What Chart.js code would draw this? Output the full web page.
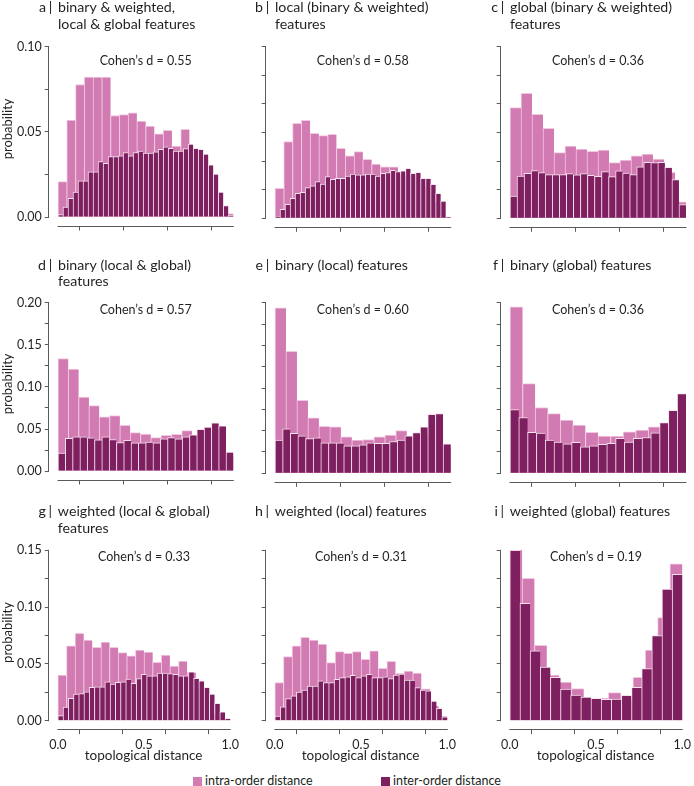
<!DOCTYPE html>
<html><head><meta charset="utf-8">
<script src="https://cdn.jsdelivr.net/npm/chart.js@4/dist/chart.umd.min.js"></script>
<style>
html,body{margin:0;padding:0;background:#fff;overflow:hidden;}
#wrap{position:relative;width:694px;height:786px;font-family:Lato,sans-serif;}
canvas{position:absolute;}
.lg{position:absolute;font:12.5px Lato,sans-serif;color:#231f20;white-space:nowrap;line-height:14px;}
.sw{position:absolute;width:9px;height:9px;}
</style></head>
<body><div id="wrap"></div>
<script>
// ---------- data ----------
const xTicks = [0, 0.25, 0.5, 0.75, 1.0];
const yTicks010 = [0, 0.025, 0.05, 0.075, 0.10];
const yTicks015 = [0, 0.025, 0.05, 0.075, 0.10, 0.125, 0.15];
const yTicks020 = [0, 0.025, 0.05, 0.075, 0.10, 0.125, 0.15, 0.175, 0.20];
const seriesNames = ['intra-order distance', 'inter-order distance'];
const panelLetters = ['a','b','c','d','e','f','g','h','i'];
const panelTitles = [
  ['binary & weighted,', 'local & global features'],
  ['local (binary & weighted)', 'features'],
  ['global (binary & weighted)', 'features'],
  ['binary (local & global)', 'features'],
  ['binary (local) features'],
  ['binary (global) features'],
  ['weighted (local & global)', 'features'],
  ['weighted (local) features'],
  ['weighted (global) features']
];
const cohensD = ['0.55','0.58','0.36','0.57','0.60','0.36','0.33','0.31','0.19'];
const yMaxes = [0.10, 0.15, 0.15, 0.20, 0.20, 0.20, 0.15, 0.15, 0.15];

const intraA = [0.0208,0.0569,0.0777,0.0821,0.0821,0.0821,0.0596,0.0602,0.0612,0.0563,0.0534,0.0489,0.0509,0.0417,0.0515,0.038,0.035,0.024,0.006,0.002];
const interA = [0.0014,0.0058,0.011,0.0146,0.0212,0.0212,0.0266,0.0266,0.0326,0.0315,0.0355,0.0355,0.0359,0.0379,0.0359,0.0379,0.0388,0.0375,0.0375,0.0383,0.0398,0.0412,0.0404,0.0388,0.0388,0.0402,0.0429,0.0404,0.0398,0.0369,0.0307,0.0252,0.0146,0.0068,0.001];
const intraB = [0.0262,0.067,0.083,0.0856,0.0743,0.0722,0.0734,0.0612,0.0545,0.0583,0.0516,0.0475,0.0451,0.0451,0.038,0.038,0.034,0.028,0.014,0.001];
const interB = [0.0015,0.0079,0.0122,0.0175,0.0218,0.0227,0.0268,0.0283,0.032,0.030,0.0364,0.0341,0.035,0.035,0.037,0.0387,0.0379,0.0379,0.0387,0.0387,0.037,0.0393,0.0399,0.0419,0.0408,0.0414,0.0437,0.0393,0.0402,0.035,0.035,0.0297,0.0218,0.0151,0.0009];
const intraC = [0.0967,0.1092,0.0909,0.0786,0.0574,0.0632,0.0606,0.0585,0.0597,0.0486,0.051,0.0545,0.0562,0.0518,0.0402,0.0143];
const interC = [0.0195,0.037,0.0393,0.0417,0.0399,0.0382,0.0382,0.0382,0.039,0.0379,0.039,0.0376,0.0367,0.0408,0.0364,0.0414,0.0396,0.0382,0.0451,0.0489,0.0486,0.0489,0.0446,0.0338,0.012];
const intraD = [0.1336,0.1211,0.0879,0.0777,0.0645,0.066,0.0543,0.0457,0.0441,0.0398,0.0426,0.0438,0.048,0.042,0.048,0.05,0.02];
const interD = [0.0215,0.039,0.0406,0.0406,0.0394,0.0371,0.0406,0.0375,0.034,0.0367,0.0336,0.0336,0.0344,0.0336,0.0383,0.0398,0.0383,0.0406,0.043,0.0496,0.0523,0.0574,0.0539,0.0227];
const intraE = [0.194,0.143,0.0854,0.0649,0.0551,0.0544,0.0427,0.0388,0.0396,0.0427,0.0447,0.050,0.043,0.047,0.06,0.03];
const interE = [0.0388,0.052,0.047,0.0439,0.0408,0.0416,0.0357,0.0357,0.0357,0.0322,0.0322,0.0334,0.0357,0.035,0.035,0.0373,0.0388,0.0439,0.0478,0.0544,0.069,0.070,0.0346];
const intraF = [0.1953,0.1051,0.0771,0.070,0.0623,0.0564,0.0479,0.0436,0.0436,0.0486,0.0506,0.0545,0.055,0.07];
const interF = [0.0747,0.0654,0.0479,0.0471,0.0389,0.0366,0.0346,0.0362,0.0311,0.0323,0.0339,0.035,0.0409,0.0366,0.0409,0.042,0.0475,0.0595,0.0739,0.0934];
const intraG = [0.0402,0.0658,0.0769,0.071,0.0646,0.0693,0.0646,0.0599,0.0572,0.0622,0.0605,0.0514,0.0578,0.0481,0.0525,0.0426,0.029,0.0164,0.006,0.0018];
const interG = [0.0044,0.012,0.0197,0.0235,0.0238,0.0255,0.0294,0.0299,0.0299,0.0343,0.0323,0.0338,0.0343,0.0367,0.0329,0.037,0.0408,0.0396,0.0396,0.042,0.042,0.0414,0.0408,0.0396,0.0396,0.0431,0.0373,0.0352,0.0294,0.0235,0.0153,0.0079,0.0018];
const intraH = [0.0335,0.0564,0.0658,0.0734,0.071,0.0675,0.0511,0.0608,0.0593,0.0608,0.054,0.0616,0.0461,0.0522,0.0417,0.0437,0.042,0.028,0.013,0.004];
const interH = [0.0041,0.0123,0.0194,0.022,0.0252,0.027,0.0305,0.0305,0.0352,0.0335,0.0335,0.0364,0.0379,0.0387,0.0399,0.0379,0.0396,0.0408,0.0379,0.0379,0.0387,0.037,0.0402,0.0411,0.0358,0.0358,0.0291,0.027,0.0264,0.0173,0.0109,0.0035];
const intraI = [0.16,0.1253,0.0663,0.0402,0.034,0.0282,0.02,0.02,0.0247,0.019,0.0382,0.0622,0.0907,0.138];
const interI = [0.15,0.1033,0.0616,0.0473,0.0382,0.0279,0.0226,0.0208,0.0197,0.0188,0.0191,0.0223,0.0294,0.0458,0.0749,0.1159,0.1289];

const intraAll = [intraA,intraB,intraC,intraD,intraE,intraF,intraG,intraH,intraI];
const interAll = [interA,interB,interC,interD,interE,interF,interG,interH,interI];

// ---------- style / layout ----------
const PINK = '#d27bb3', PINK_EDGE = '#f2c8e0';
const PURPLE = '#7e1f5f', PURPLE_EDGE = '#f5e3ee';
const AXIS = '#5a5a5c', TEXT = '#231f20';
const FONT = 'Lato';
Chart.defaults.font.family = FONT;
Chart.defaults.color = TEXT;

const COLS = [
  {cl: 0,   X0: 58,  X1: 233.3},
  {cl: 245, X0: 275, X1: 450.7},
  {cl: 480, X0: 510, X1: 686}
];
const ROWS = [
  {ct: 0,   cb: 236, Y0: 218.3, YM: 46.7,  t1: 7.5,   t2: 24.2,  cd: 60.7},
  {ct: 252, cb: 490, Y0: 473.3, YM: 302.7, t1: 265,   t2: 281.7, cd: 310},
  {ct: 500, cb: 770, Y0: 720.7, YM: 550.3, t1: 511.7, t2: 528.3, cd: 556.7}
];
const XMIN = -0.05, XMAX = 1.045, DY = 8.5, XTITLE_Y = 755.7;

const wrap = document.getElementById('wrap');

const panelPlugin = {
  id: 'panelDeco',
  afterDraw(chart, args, o) {
    const {ctx, chartArea, scales} = chart;
    const yS = scales.y, xS = scales.x;
    ctx.save();
    ctx.strokeStyle = AXIS; ctx.lineWidth = 1;
    const ax = Math.round(chartArea.left) - 0.5;
    ctx.beginPath();
    ctx.moveTo(ax, yS.getPixelForValue(0) + 0.5);
    ctx.lineTo(ax, yS.getPixelForValue(o.ymax) - 0.5);
    ctx.stroke();
    const ay = Math.round(chartArea.bottom) + 0.5;
    ctx.beginPath();
    ctx.moveTo(xS.getPixelForValue(0) - 0.5, ay);
    ctx.lineTo(xS.getPixelForValue(1) + 0.5, ay);
    ctx.stroke();
    // Cohen's d
    ctx.fillStyle = TEXT;
    ctx.textBaseline = 'middle';
    ctx.textAlign = 'center';
    ctx.font = '12.5px ' + FONT;
    ctx.fillText('Cohen\u2019s d = ' + o.d, xS.getPixelForValue(0.5), o.cdY);
    // title
    const tx = xS.getPixelForValue(0);
    ctx.font = '14.2px ' + FONT;
    ctx.textAlign = 'left';
    o.title.forEach((line, k) => ctx.fillText(line, tx, k === 0 ? o.t1 : o.t2));
    ctx.textAlign = 'right';
    ctx.fillText(o.letter, tx - 12, o.t1);
    ctx.textAlign = 'center';
    ctx.fillText('|', tx - 7.5, o.t1);
    // y title
    if (o.yTitle) {
      ctx.save();
      ctx.font = '13px ' + FONT;
      ctx.translate(8, (yS.getPixelForValue(0) + yS.getPixelForValue(o.ymax)) / 2 - 3);
      ctx.rotate(-Math.PI / 2);
      ctx.textAlign = 'center';
      ctx.fillText('probability', 0, 0);
      ctx.restore();
    }
    ctx.restore();
  }
};

for (let k = 0; k < 9; k++) {
  const c = k % 3, r = Math.floor(k / 3);
  const col = COLS[c], row = ROWS[r];
  const ymax = yMaxes[k];
  const yTicks = ymax === 0.10 ? yTicks010 : (ymax === 0.15 ? yTicks015 : yTicks020);
  const u = col.X1 - col.X0;
  const chartL = col.X0 + XMIN * u, chartR = col.X0 + XMAX * u;
  const W = Math.ceil(chartR - col.cl);
  const wy = chartL - col.cl;
  const padR = W - (chartR - col.cl);
  const H = row.cb - row.ct;
  const padT = row.YM - row.ct;
  const chartB = row.Y0 + DY;
  const hx = r === 2 ? (XTITLE_Y + 8.1 - chartB) : 8;
  const padB = row.cb - chartB - hx;
  const ymin = -ymax * DY / (row.Y0 - row.YM);

  const cv = document.createElement('canvas');
  cv.width = W; cv.height = H;
  cv.style.left = col.cl + 'px'; cv.style.top = row.ct + 'px';
  cv.style.width = W + 'px'; cv.style.height = H + 'px';
  wrap.appendChild(cv);

  const intra = intraAll[k], inter = interAll[k];
  const xAxisCommon = {
    type: 'linear', min: XMIN, max: XMAX, offset: false,
    afterBuildTicks: s => { s.ticks = xTicks.map(v => ({value: v})); }
  };
  new Chart(cv, {
    type: 'bar',
    data: {
      datasets: [
        {
          label: seriesNames[1], xAxisID: 'x', order: 0,
          data: inter.map((v, i) => ({x: (i + 0.5) / inter.length, y: v})),
          backgroundColor: PURPLE, borderColor: PURPLE_EDGE,
          borderWidth: {top: 1, left: 1, right: 0, bottom: 0},
          barPercentage: 1, categoryPercentage: 1, grouped: false
        },
        {
          label: seriesNames[0], xAxisID: 'xp', order: 1,
          data: intra.map((v, i) => ({x: (i + 0.5) / intra.length, y: v})),
          backgroundColor: PINK, borderColor: PINK_EDGE,
          borderWidth: {top: 1, left: 1, right: 0, bottom: 0},
          barPercentage: 1, categoryPercentage: 1, grouped: false
        }
      ]
    },
    options: {
      responsive: false, animation: false, devicePixelRatio: 1,
      layout: {padding: {left: 0, top: padT, right: padR, bottom: padB}},
      plugins: {
        legend: {display: false}, tooltip: {enabled: false},
        panelDeco: {
          ymax, d: cohensD[k], title: panelTitles[k], letter: panelLetters[k],
          t1: row.t1 - row.ct, t2: row.t2 - row.ct, cdY: row.cd - row.ct,
          yTitle: c === 0
        }
      },
      scales: {
        x: Object.assign({}, xAxisCommon, {
          afterFit: s => { s.height = hx; },
          border: {display: false},
          grid: {display: true, drawOnChartArea: false, drawTicks: true, tickLength: 5, color: AXIS, lineWidth: 1},
          ticks: {
            display: r === 2, autoSkip: false, maxRotation: 0, padding: 3,
            font: {size: 12.5, family: FONT}, color: TEXT,
            callback: v => (Math.abs(v - Math.round(v * 2) / 2) < 1e-9 ? v.toFixed(1) : '')
          },
          title: {display: r === 2, text: 'topological distance', font: {size: 13.5, family: FONT, lineHeight: 1.2}, color: TEXT, padding: {top: 0, bottom: 0}}
        }),
        xp: Object.assign({}, xAxisCommon, {display: false}),
        y: {
          type: 'linear', min: ymin, max: ymax,
          afterBuildTicks: s => { s.ticks = yTicks.map(v => ({value: v})); },
          afterFit: s => { s.width = wy; },
          border: {display: false},
          grid: {display: true, drawOnChartArea: false, drawTicks: true, tickLength: 4.5, color: AXIS, lineWidth: 1},
          ticks: {
            display: c === 0, autoSkip: false, padding: 3,
            font: {size: 12.5, family: FONT}, color: TEXT,
            callback: v => (Math.abs(v / 0.05 - Math.round(v / 0.05)) < 1e-6 ? v.toFixed(2) : '')
          }
        }
      }
    },
    plugins: [panelPlugin]
  });
}

// legend (HTML text)
const legendItems = [
  {name: seriesNames[0], color: PINK, sx: 193, tx: 205},
  {name: seriesNames[1], color: PURPLE, sx: 381, tx: 393}
];
legendItems.forEach(it => {
  const s = document.createElement('div');
  s.className = 'sw'; s.style.left = it.sx + 'px'; s.style.top = '777px'; s.style.background = it.color;
  wrap.appendChild(s);
  const t = document.createElement('div');
  t.className = 'lg'; t.style.left = it.tx + 'px'; t.style.top = '774px'; t.textContent = it.name;
  wrap.appendChild(t);
});
</script>
</body></html>
